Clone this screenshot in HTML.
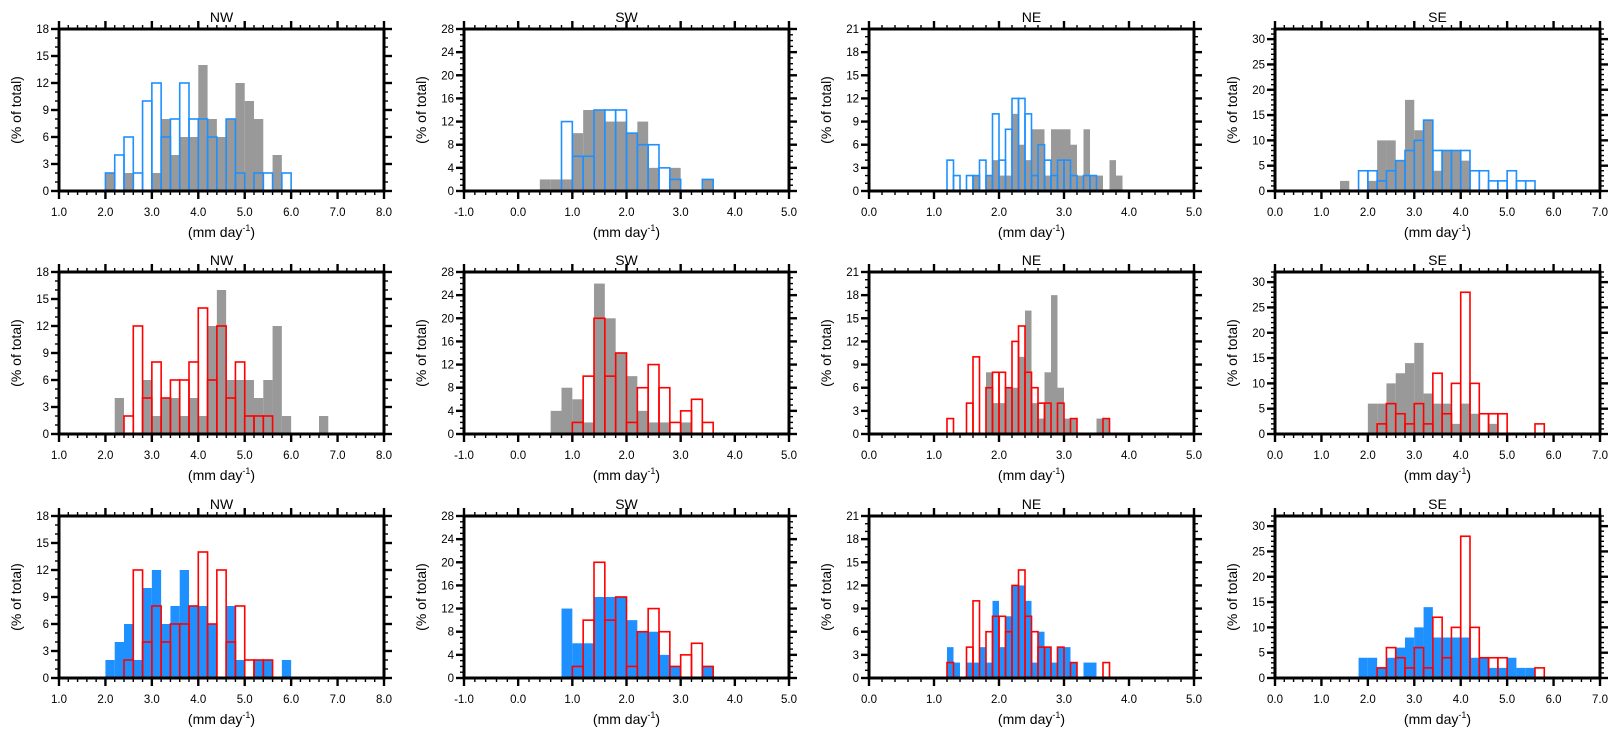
<!DOCTYPE html>
<html><head><meta charset="utf-8"><style>
html,body{margin:0;padding:0;background:#fff}
svg{display:block}
text{font-family:"Liberation Sans",Arial,sans-serif;fill:#000}
</style></head><body>
<svg id="chart" xmlns="http://www.w3.org/2000/svg" width="1620" height="736" viewBox="0 0 1620 736"></svg>
<script>
// ---- Data (bin starts and % of total) ----
const regionNames = ["NW","SW","NE","SE"];
const nwBins = [2.0,2.2,2.4,2.6,2.8,3.0,3.2,3.4,3.6,3.8,4.0,4.2,4.4,4.6,4.8,5.0,5.2,5.4,5.6,5.8,6.0,6.2,6.4,6.6];
const nwObs1 = [2,0,2,0,0,2,8,4,6,6,14,8,6,8,12,10,8,0,4,0,0,0,0,0];
const nwBlue = [2,4,6,2,10,12,6,8,12,8,8,6,0,8,2,0,2,2,0,2,0,0,0,0];
const nwObs2 = [0,4,0,0,6,2,4,4,2,4,2,12,16,6,6,6,4,6,12,2,0,0,0,2];
const nwRed  = [0,0,2,12,4,8,4,6,6,8,14,6,12,4,8,2,2,2,0,0,0,0,0,0];

const swBins = [0.4,0.6,0.8,1.0,1.2,1.4,1.6,1.8,2.0,2.2,2.4,2.6,2.8,3.0,3.2,3.4];
const swObs1 = [2,2,2,10,14,14,12,12,10,12,4,0,4,0,0,2];
const swBlue = [0,0,12,6,6,14,14,14,10,8,8,4,2,0,0,2];
const swObs2 = [0,4,8,6,2,26,20,14,10,4,2,2,0,2,0,0];
const swRed  = [0,0,0,2,10,20,10,14,2,8,12,8,2,4,6,2];

const neBins = [1.2,1.3,1.4,1.5,1.6,1.7,1.8,1.9,2.0,2.1,2.2,2.3,2.4,2.5,2.6,2.7,2.8,2.9,3.0,3.1,3.2,3.3,3.4,3.5,3.6,3.7,3.8];
const neObs1 = [0,0,0,0,2,0,2,4,2,2,10,6,4,8,8,2,8,8,8,6,2,8,2,2,0,4,2];
const neBlue = [4,2,0,2,2,4,2,10,4,8,12,12,10,2,6,4,2,4,4,2,0,2,2,0,0,0,0];
const neObs2 = [0,0,0,0,0,0,8,4,4,6,6,10,16,4,2,8,18,6,2,2,0,0,0,2,2,0,0];
const neRed  = [2,0,0,4,10,0,6,8,8,6,12,14,8,6,4,4,0,4,0,2,0,0,0,0,2,0,0];

const seBins = [1.4,1.6,1.8,2.0,2.2,2.4,2.6,2.8,3.0,3.2,3.4,3.6,3.8,4.0,4.2,4.4,4.6,4.8,5.0,5.2,5.4,5.6];
const seObs1 = [2,0,0,2,10,10,6,18,12,14,4,8,8,6,0,0,0,0,0,0,0,0];
const seBlue = [0,0,4,4,2,4,6,8,10,14,8,8,8,8,4,4,2,2,4,2,2,0];
const seObs2 = [0,0,0,6,6,10,12,14,18,8,6,6,2,6,4,0,2,0,0,0,0,0];
const seRed  = [0,0,0,0,2,6,4,2,6,2,12,4,10,28,10,4,4,4,0,0,0,2];

const xTickLabels = [
  ["1.0","2.0","3.0","4.0","5.0","6.0","7.0","8.0"],
  ["-1.0","0.0","1.0","2.0","3.0","4.0","5.0"],
  ["0.0","1.0","2.0","3.0","4.0","5.0"],
  ["0.0","1.0","2.0","3.0","4.0","5.0","6.0","7.0"]
];

// ---- Layout config ----
const regionCfg = [
  {bins:nwBins,w:0.2,xmin:1,xmax:8,ymax:18,ystep:3,yminor:1,row:[[nwObs1,nwBlue],[nwObs2,nwRed],[nwBlue,nwRed]]},
  {bins:swBins,w:0.2,xmin:-1,xmax:5,ymax:28,ystep:4,yminor:1,row:[[swObs1,swBlue],[swObs2,swRed],[swBlue,swRed]]},
  {bins:neBins,w:0.1,xmin:0,xmax:5,ymax:21,ystep:3,yminor:1,row:[[neObs1,neBlue],[neObs2,neRed],[neBlue,neRed]]},
  {bins:seBins,w:0.2,xmin:0,xmax:7,ymax:32,ystep:5,yminor:1,row:[[seObs1,seBlue],[seObs2,seRed],[seBlue,seRed]]}
];
const lefts=[59,464,869,1275], tops=[29,272,516], PW=325, PH=162;
const rowStyles=[
  {fill:"#999999",outline:"#1e90ff"},
  {fill:"#999999",outline:"#ff0000"},
  {fill:"#1e90ff",outline:"#ff0000"}
];
const NS="http://www.w3.org/2000/svg";
const svg=document.getElementById("chart");
function mk(tag,attrs,parent){const e=document.createElementNS(NS,tag);for(const k in attrs)e.setAttribute(k,attrs[k]);(parent||svg).appendChild(e);return e;}

for(let r=0;r<3;r++){
  for(let c=0;c<4;c++){
    const cfg=regionCfg[c], L=lefts[c], T=tops[r], B=T+PH, R=L+PW;
    const g=mk("g",{});
    
    
    const xs=v=>L+(v-cfg.xmin)/(cfg.xmax-cfg.xmin)*PW;
    const ys=v=>B-v/cfg.ymax*PH;
    const [fillVals,lineVals]=cfg.row[r];
    const st=rowStyles[r];
    cfg.bins.forEach((b,i)=>{
      const v=fillVals[i]; if(!v) return;
      const rc=mk("rect",{x:xs(b),y:ys(v),width:xs(b+cfg.w)-xs(b),height:B-ys(v),fill:st.fill},g);
      
      
    });
    cfg.bins.forEach((b,i)=>{
      const v=lineVals[i]; if(!v) return;
      const rc=mk("rect",{x:xs(b),y:ys(v),width:xs(b+cfg.w)-xs(b),height:B-ys(v),fill:"none",stroke:st.outline,"stroke-width":1.6},g);
      
      
    });
    const tg=mk("g",{stroke:"#000"},g);
    
    
    const nx=Math.round((cfg.xmax-cfg.xmin)/0.2);
    for(let k=0;k<=nx;k++){
      const v=cfg.xmin+k*0.2, x=xs(v), major=(k%5===0), len=major?8:4, sw=major?2.4:1.4;
      mk("line",{x1:x,y1:B,x2:x,y2:B+len,"stroke-width":sw},tg);
      mk("line",{x1:x,y1:T,x2:x,y2:T-len,"stroke-width":sw},tg);
    }
    for(let v=0;v<=cfg.ymax;v+=cfg.yminor){
      const y=ys(v), major=(v%cfg.ystep===0), len=major?8:4, sw=major?2.4:1.4;
      mk("line",{x1:L,y1:y,x2:L-len,y2:y,"stroke-width":sw},tg);
      mk("line",{x1:R,y1:y,x2:R+len,y2:y,"stroke-width":sw},tg);
    }
    const fr=mk("rect",{x:L,y:T,width:PW,height:PH,fill:"none",stroke:"#000","stroke-width":3},g);
    
    
    xTickLabels[c].forEach((lab,k)=>{
      const t=mk("text",{x:xs(cfg.xmin+k),y:B+25,"font-size":11.5,"text-anchor":"middle"},g);
      t.textContent=lab;
      
      
    });
    for(let v=0;v<=cfg.ymax;v+=cfg.ystep){
      const t=mk("text",{x:L-10,y:ys(v)+4,"font-size":11.5,"text-anchor":"end"},g);
      t.textContent=String(v);
      
      
    }
    const tt=mk("text",{x:L+PW/2,y:T-7,"font-size":14,"text-anchor":"middle"},g);
    tt.textContent=regionNames[c];
    
    
    const yt=mk("text",{x:0,y:0,"font-size":14,"text-anchor":"middle",transform:`translate(${L-38},${T+PH/2}) rotate(-90)`},g);
    yt.textContent="(% of total)";
    
    
    const xt=mk("text",{x:L+PW/2,y:B+46,"font-size":14,"text-anchor":"middle"},g);
    
    
    const s1=mk("tspan",{},xt); s1.textContent="(mm day";
    const s2=mk("tspan",{"font-size":9,dy:-6},xt); s2.textContent="-1";
    const s3=mk("tspan",{dy:6},xt); s3.textContent=")";
  }
}
</script>
</body></html>
